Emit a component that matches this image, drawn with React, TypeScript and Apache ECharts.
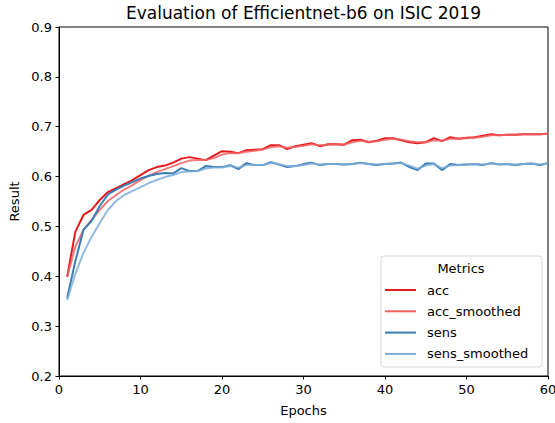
import React, { useEffect, useRef } from "react";
import * as echarts from "echarts";

const epochs = [1,2,3,4,5,6,7,8,9,10,11,12,13,14,15,16,17,18,19,20,21,22,23,24,25,26,27,28,29,30,31,32,33,34,35,36,37,38,39,40,41,42,43,44,45,46,47,48,49,50,51,52,53,54,55,56,57,58,59,60];

const acc = [0.399,0.489,0.523,0.533,0.553,0.569,0.577,0.585,0.593,0.603,0.613,0.619,0.622,0.628,0.636,0.639,0.636,0.633,0.642,0.651,0.650,0.647,0.653,0.654,0.655,0.663,0.663,0.655,0.661,0.664,0.667,0.661,0.665,0.665,0.664,0.673,0.674,0.669,0.672,0.677,0.677,0.673,0.669,0.667,0.669,0.677,0.671,0.679,0.676,0.678,0.679,0.682,0.685,0.683,0.684,0.684,0.685,0.685,0.685,0.686];

const accSmoothed = [0.399,0.459,0.493,0.513,0.533,0.551,0.563,0.574,0.583,0.593,0.602,0.609,0.615,0.621,0.627,0.632,0.633,0.633,0.637,0.644,0.647,0.647,0.650,0.652,0.654,0.659,0.661,0.658,0.660,0.662,0.665,0.663,0.664,0.665,0.664,0.669,0.672,0.670,0.671,0.674,0.676,0.674,0.671,0.669,0.669,0.673,0.672,0.676,0.676,0.677,0.678,0.680,0.683,0.683,0.684,0.684,0.685,0.685,0.685,0.686];

const sens = [0.356,0.430,0.493,0.511,0.541,0.564,0.574,0.582,0.589,0.596,0.601,0.605,0.607,0.606,0.617,0.611,0.611,0.621,0.619,0.619,0.623,0.615,0.627,0.623,0.623,0.629,0.624,0.619,0.621,0.625,0.628,0.623,0.625,0.625,0.624,0.625,0.628,0.625,0.623,0.625,0.626,0.628,0.619,0.613,0.626,0.626,0.613,0.625,0.623,0.624,0.625,0.623,0.627,0.624,0.625,0.623,0.625,0.626,0.623,0.627];

const sensSmoothed = [0.352,0.405,0.447,0.479,0.507,0.533,0.551,0.563,0.571,0.579,0.587,0.593,0.599,0.603,0.609,0.610,0.611,0.616,0.618,0.618,0.621,0.618,0.623,0.623,0.623,0.627,0.625,0.621,0.621,0.623,0.626,0.624,0.625,0.625,0.624,0.625,0.627,0.625,0.624,0.625,0.626,0.627,0.622,0.616,0.622,0.625,0.617,0.622,0.623,0.624,0.625,0.624,0.626,0.625,0.625,0.624,0.625,0.626,0.624,0.626];

const seriesNames = ["acc", "acc_smoothed", "sens", "sens_smoothed"];
const seriesColors = ["#e41a1c", "#f26161", "#377eb8", "#7fadd9"];
const seriesData = [acc, accSmoothed, sens, sensSmoothed];

const FONT = "DejaVu Sans";

export default function App() {
  const ref = useRef<HTMLDivElement>(null);
  useEffect(() => {
    if (!ref.current) return;
    const chart = echarts.init(ref.current, null, { renderer: "svg" });
    const gridLeft = 59, gridTop = 27, gridRight = 7, gridBottom = 47;
    const plotCx = gridLeft + (555 - gridLeft - gridRight) / 2;
    chart.setOption({
      animation: false,
      backgroundColor: "#ffffff",
      grid: {
        left: gridLeft, top: gridTop, right: gridRight, bottom: gridBottom,
        containLabel: false, outerBoundsMode: "none",
        show: true, borderColor: "#000", borderWidth: 1,
      },
      xAxis: {
        type: "value", min: 0, max: 60, interval: 10,
        axisLine: { show: true, lineStyle: { color: "#000", width: 1 } },
        axisTick: { show: true, length: 3.5, lineStyle: { color: "#000" } },
        axisLabel: { color: "#000", fontFamily: FONT, fontSize: 13, margin: 7 },
        splitLine: { show: false },
      },
      yAxis: {
        type: "value", min: 0.2, max: 0.9, interval: 0.1,
        axisLine: { show: true, lineStyle: { color: "#000", width: 1 } },
        axisTick: { show: true, length: 3.5, lineStyle: { color: "#000" } },
        axisLabel: {
          color: "#000", fontFamily: FONT, fontSize: 13, margin: 7,
          formatter: (v: number) => v.toFixed(1),
        },
        splitLine: { show: false },
      },
      legend: {
        orient: "vertical",
        left: 385, top: 279.5, padding: 0, z: 10,
        icon: "rect", itemWidth: 31, itemHeight: 2, itemGap: 0.3,
        data: seriesNames,
        textStyle: { color: "#000", fontFamily: FONT, fontSize: 13, lineHeight: 21, padding: [0, 0, 0, 6] },
      },
      graphic: [
        {
          type: "rect", z: 1,
          shape: { x: 381, y: 256, width: 161, height: 111, r: 3 },
          style: { fill: "rgba(255,255,255,0.8)", stroke: "#d6d6d6", lineWidth: 1 },
        },
        {
          type: "text", z: 1, x: 461, y: 268,
          style: { text: "Metrics", fill: "#000", font: `13px "${FONT}"`, textAlign: "center", textVerticalAlign: "middle" },
        },
        {
          type: "text", x: plotCx, y: 13,
          style: { text: "Evaluation of Efficientnet-b6 on ISIC 2019", fill: "#000", font: `17px "${FONT}"`, textAlign: "center", textVerticalAlign: "middle" },
        },
        {
          type: "text", x: plotCx, y: 410,
          style: { text: "Epochs", fill: "#000", font: `13px "${FONT}"`, textAlign: "center", textVerticalAlign: "middle" },
        },
        {
          type: "text", x: 14, y: 201.5, rotation: Math.PI / 2,
          style: { text: "Result", fill: "#000", font: `13px "${FONT}"`, textAlign: "center", textVerticalAlign: "middle" },
        },
      ],
      series: seriesNames.map((name, i) => ({
        name,
        type: "line",
        data: epochs.map((e, j) => [e, seriesData[i][j]]),
        showSymbol: false,
        symbol: "none",
        color: seriesColors[i],
        lineStyle: { color: seriesColors[i], width: 2, opacity: i % 2 === 1 ? 0.85 : 1 },
        z: 2 + i,
      })),
    });
    return () => chart.dispose();
  }, []);
  return (
    <div
      ref={ref}
      style={{ position: "fixed", left: 0, top: 0, width: 555, height: 423, background: "#fff" }}
    />
  );
}
